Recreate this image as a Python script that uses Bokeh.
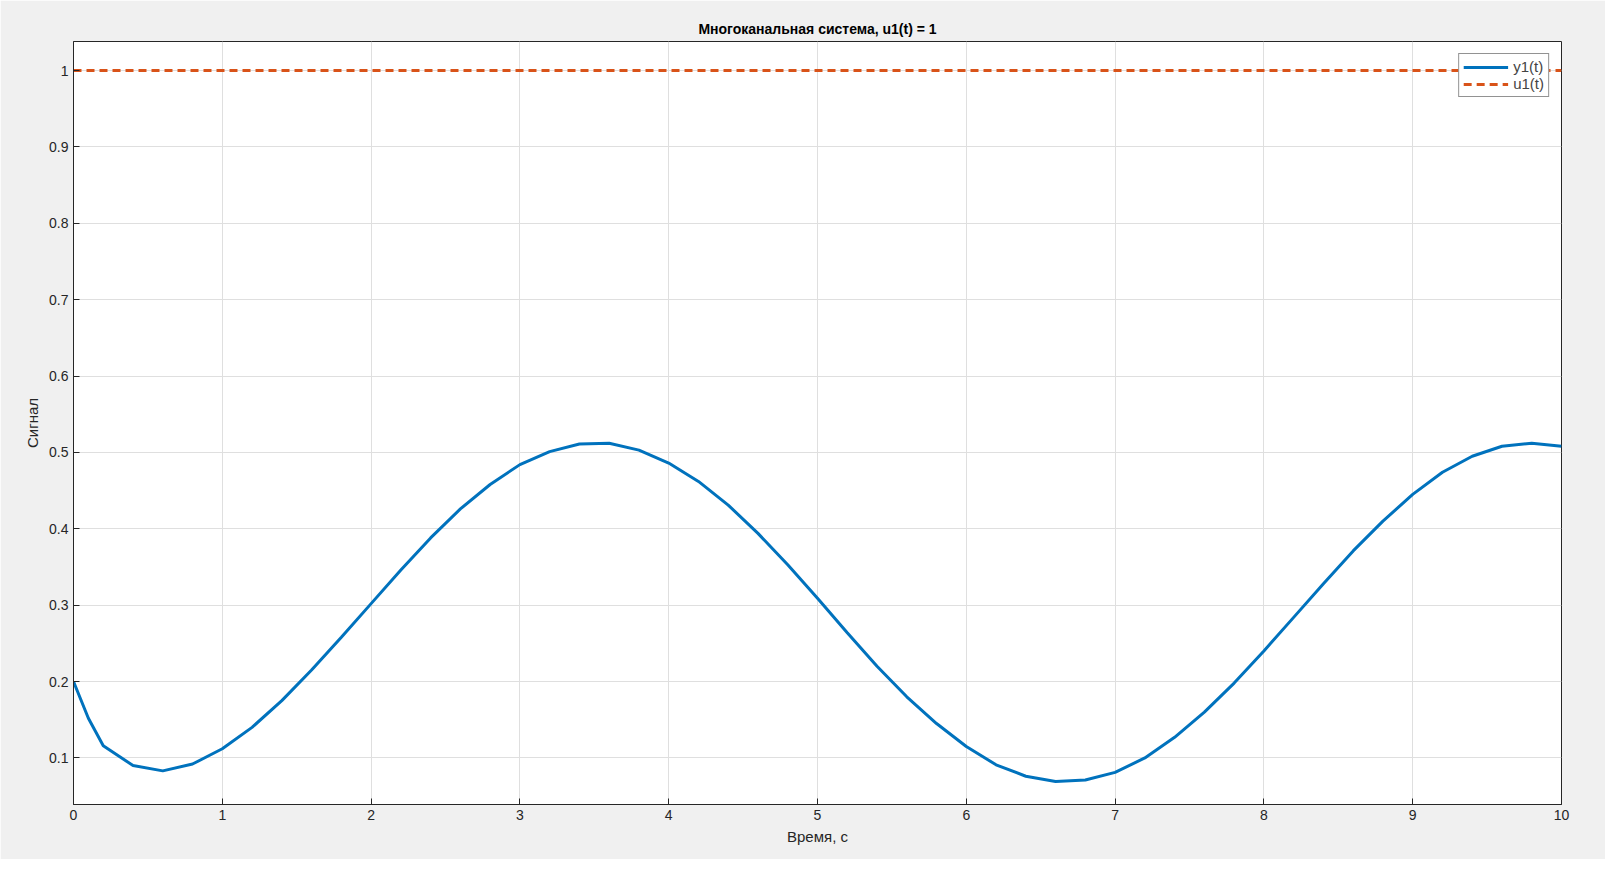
import numpy as np
from bokeh.plotting import figure
from bokeh.models import Legend, LegendItem, FixedTicker, Range1d
from bokeh.embed import file_html
from bokeh.resources import INLINE

t = [0, 0.1, 0.2, 0.4, 0.6, 0.8, 1.0, 1.2, 1.4, 1.6, 1.8, 2.0, 2.2, 2.4, 2.6, 2.8, 3.0, 3.2, 3.4, 3.6, 3.8,
     4.0, 4.2, 4.4, 4.6, 4.8, 5.0, 5.2, 5.4, 5.6, 5.8, 6.0, 6.2, 6.4, 6.6, 6.8, 7.0, 7.2, 7.4, 7.6, 7.8,
     8.0, 8.2, 8.4, 8.6, 8.8, 9.0, 9.2, 9.4, 9.6, 9.8, 10.0]
y1 = [0.2, 0.152, 0.116, 0.09, 0.083, 0.092, 0.112, 0.14, 0.175, 0.215, 0.258, 0.302, 0.346, 0.388, 0.426,
      0.458, 0.484, 0.501, 0.511, 0.512, 0.503, 0.486, 0.462, 0.431, 0.394, 0.353, 0.309, 0.264, 0.22, 0.18,
      0.145, 0.115, 0.091, 0.076, 0.069, 0.071, 0.081, 0.1, 0.127, 0.16, 0.198, 0.24, 0.284, 0.328, 0.371,
      0.41, 0.445, 0.474, 0.495, 0.508, 0.512, 0.508]
u_t = [0, 10]
u1 = [1, 1]
xticks = list(range(0, 11))
yticks = [0.1, 0.2, 0.3, 0.4, 0.5, 0.6, 0.7, 0.8, 0.9, 1.0]

p = figure(width=1605, height=859, output_backend="svg", toolbar_location=None,
           x_range=Range1d(0, 10), y_range=Range1d(0.039, 1.038),
           title="Многоканальная система, u1(t) = 1",
           min_border_left=73, min_border_right=44, min_border_top=41, min_border_bottom=55)
p.background_fill_color = "white"
p.border_fill_color = "#f0f0f0"
p.outline_line_color = "#262626"
p.title.align = "center"
p.title.text_font = "Liberation Sans"
p.title.text_font_size = "14px"
p.title.text_color = "#000000"
p.title.offset = 0

l1 = p.line(t, y1, line_color="#0072BD", line_width=3)
l2 = p.line(u_t, u1, line_color="#D95319", line_width=3, line_dash="8 5")

for ax in (p.xaxis[0], p.yaxis[0]):
    ax.major_label_text_font = "Liberation Sans"
    ax.major_label_text_font_size = "14px"
    ax.major_label_text_color = "#262626"
    ax.axis_label_text_font = "Liberation Sans"
    ax.axis_label_text_font_size = "15px"
    ax.axis_label_text_font_style = "normal"
    ax.axis_label_text_color = "#262626"
    ax.axis_line_color = "#262626"
    ax.major_tick_line_color = "#262626"
    ax.major_tick_in = 6
    ax.major_tick_out = 0
    ax.minor_tick_line_color = None
p.xaxis.ticker = FixedTicker(ticks=xticks)
p.yaxis.ticker = FixedTicker(ticks=yticks)
p.yaxis.major_label_overrides = {1.0: "1"}
p.xaxis.axis_label = "Время, с"
p.yaxis.axis_label = "Сигнал"
p.grid.grid_line_color = "#dfdfdf"
p.grid.grid_line_alpha = 1

legend = Legend(items=[LegendItem(label="y1(t)", renderers=[l1]),
                       LegendItem(label="u1(t)", renderers=[l2])],
                location="top_right", label_text_font="Liberation Sans",
                label_text_font_size="15px", border_line_color="#262626",
                spacing=0, padding=4, margin=12, glyph_width=45, label_height=14,
                glyph_height=14, background_fill_alpha=1)
p.add_layout(legend)

open("out.html", "w").write(file_html(p, INLINE))
